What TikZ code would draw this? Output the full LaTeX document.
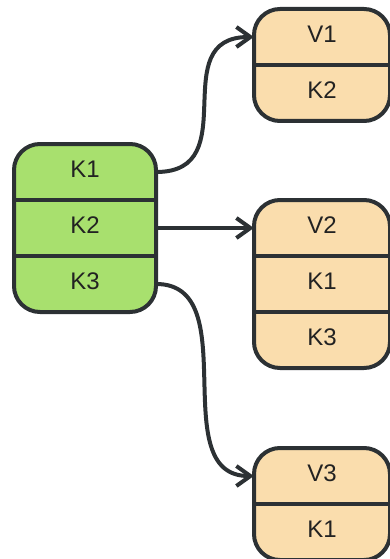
\documentclass[tikz,border=0pt]{standalone}
\usepackage{fontspec}
\setmainfont{Liberation Sans}
\usetikzlibrary{arrows.meta}
\definecolor{gfill}{HTML}{A8E06E}
\definecolor{ofill}{HTML}{FADDAD}
\definecolor{edgec}{HTML}{2C3134}
\definecolor{txtc}{HTML}{222222}
\begin{document}
\begin{tikzpicture}[x=1pt,y=-1pt,
  box/.style={draw=edgec, line width=4pt, rounded corners=26pt, inner sep=0pt},
  gbox/.style={box, fill=gfill, minimum width=142pt},
  obox/.style={box, fill=ofill, minimum width=136pt},
  rowcell/.style={inner sep=0pt, minimum height=56pt, text=txtc, text height=17pt, text depth=5.5pt,
    font=\fontsize{24}{25}\selectfont},
  greenrow/.style={rowcell, minimum width=142pt},
  orangerow/.style={rowcell, minimum width=136pt},
  divider/.style={draw=edgec, line width=4pt},
  link/.style={draw=edgec, line width=4pt, -{Straight Barb[length=14pt,width=20pt]}}]

\useasboundingbox (0,0) rectangle (390,559);

% green key box
\node[gbox, minimum height=168pt] (G) at (85,228) {};
\node[greenrow] (k1) at (85,172) {K1};
\node[greenrow] (k2) at (85,228) {K2};
\node[greenrow] (k3) at (85,284) {K3};
\draw[divider] (k1.south west) -- (k1.south east);
\draw[divider] (k2.south west) -- (k2.south east);

% V1 box
\node[obox, minimum height=112pt] (B1) at (322,65) {};
\node[orangerow] (v1) at (322,37) {V1};
\node[orangerow] (v1k2) at (322,93) {K2};
\draw[divider] (v1.south west) -- (v1.south east);

% V2 box
\node[obox, minimum height=168pt] (B2) at (322,284) {};
\node[orangerow] (v2) at (322,228) {V2};
\node[orangerow] (v2k1) at (322,284) {K1};
\node[orangerow] (v2k3) at (322,340) {K3};
\draw[divider] (v2.south west) -- (v2.south east);
\draw[divider] (v2k1.south west) -- (v2k1.south east);

% V3 box
\node[obox, minimum height=112pt] (B3) at (322,504) {};
\node[orangerow] (v3) at (322,476) {V3};
\node[orangerow] (v3k1) at (322,532) {K1};
\draw[divider] (v3.south west) -- (v3.south east);

% links
\draw[link] (k1.east) .. controls +(90,0) and +(-90,0) .. (v1.west);
\draw[link] (k2.east) -- (v2.west);
\draw[link] (k3.east) .. controls +(90,0) and +(-90,0) .. (v3.west);
\end{tikzpicture}
\end{document}
